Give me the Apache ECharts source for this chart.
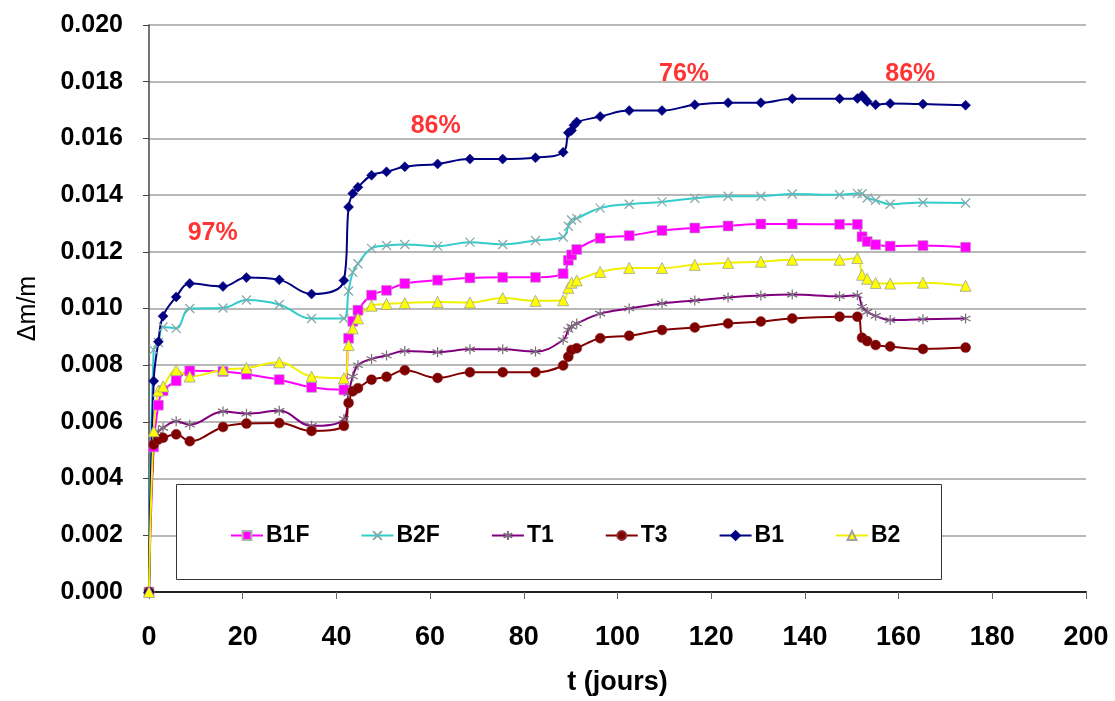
<!DOCTYPE html>
<html>
<head>
<meta charset="utf-8">
<script src="https://cdn.jsdelivr.net/npm/echarts@6/dist/echarts.min.js"></script>
<style>
html,body{margin:0;padding:0;background:#fff;}
#c{width:1115px;height:701px;}
</style>
</head>
<body>
<div id="c"></div>
<script>
// ---- data (days, Δm/m) ----
const days = [0, 1, 2, 3, 5.8, 8.7, 15.8, 20.8, 27.8, 34.7, 41.6, 42.6, 43.5, 44.6, 47.5, 50.7, 54.6, 61.6, 68.5, 75.5, 82.5,
  88.4, 89.5, 90.2, 90.7, 91.3, 96.3, 102.5, 109.5, 116.5, 123.6, 130.6, 137.3, 147.4, 151.2, 152.2, 152.7, 153.3, 155.1, 158.2, 165.2, 174.3];

const B1F = [0, 0.00512, 0.00659, 0.00710, 0.00745, 0.00780, 0.00778, 0.00768, 0.00749, 0.00722, 0.00713, 0.00895, 0.00955, 0.00994, 0.01047, 0.01064, 0.01088, 0.01100, 0.01108, 0.01110, 0.01110,
  0.01123, 0.01170, 0.01189, null, 0.01208, 0.01248, 0.01257, 0.01275, 0.01284, 0.01291, 0.01298, 0.01298, 0.01297, 0.01297, 0.01253, null, 0.01236, 0.01225, 0.01220, 0.01222, 0.01216];

const B2F = [0, 0.00854, 0.00880, 0.00935, 0.00930, 0.01000, 0.01002, 0.01030, 0.01014, 0.00965, 0.00965, 0.01062, 0.01128, 0.01158, 0.01212, 0.01222, 0.01226, 0.01220, 0.01234, 0.01226, 0.01240,
  0.01252, 0.01290, 0.01312, null, 0.01318, 0.01354, 0.01368, 0.01376, 0.01389, 0.01396, 0.01396, 0.01404, 0.01401, 0.01406, 0.01405, null, 0.01390, 0.01382, 0.01368, 0.01374, 0.01372];

const T1 = [0, 0.00555, 0.00567, 0.00579, 0.00602, 0.00590, 0.00637, 0.00629, 0.00639, 0.00586, 0.00610, 0.00700, 0.00760, 0.00800, 0.00822, 0.00834, 0.00850, 0.00846, 0.00856, 0.00856, 0.00848,
  0.00889, 0.00924, 0.00936, null, 0.00947, 0.00982, 0.01000, 0.01018, 0.01028, 0.01039, 0.01046, 0.01049, 0.01043, 0.01047, 0.01006, null, 0.00988, 0.00974, 0.00959, 0.00962, 0.00965];

const T3 = [0, 0.00520, 0.00538, 0.00544, 0.00556, 0.00532, 0.00582, 0.00594, 0.00596, 0.00568, 0.00586, 0.00667, 0.00708, 0.00719, 0.00749, 0.00759, 0.00782, 0.00755, 0.00775, 0.00775, 0.00775,
  0.00799, 0.00830, 0.00854, null, 0.00860, 0.00895, 0.00904, 0.00924, 0.00933, 0.00947, 0.00954, 0.00965, 0.00971, 0.00971, 0.00897, null, 0.00885, 0.00871, 0.00866, 0.00857, 0.00862];

const B1 = [0, 0.00744, 0.00883, 0.00973, 0.01041, 0.01088, 0.01078, 0.01109, 0.01101, 0.01051, 0.01099, 0.01358, 0.01406, 0.01428, 0.01470, 0.01482, 0.01500, 0.01510, 0.01527, 0.01527, 0.01532,
  0.01551, 0.01620, 0.01628, 0.01646, 0.01658, 0.01677, 0.01698, 0.01698, 0.01719, 0.01726, 0.01726, 0.01740, 0.01740, 0.01741, 0.01751, 0.01741, 0.01730, 0.01719, 0.01723, 0.01721, 0.01717];

const B2 = [0, 0.00567, 0.00710, 0.00725, 0.00783, 0.00760, 0.00784, 0.00790, 0.00810, 0.00760, 0.00754, 0.00871, 0.00930, 0.00965, 0.01010, 0.01016, 0.01019, 0.01023, 0.01021, 0.01037, 0.01027,
  0.01029, 0.01073, 0.01091, null, 0.01099, 0.01129, 0.01143, 0.01143, 0.01154, 0.01161, 0.01165, 0.01172, 0.01172, 0.01178, 0.01119, null, 0.01105, 0.01090, 0.01088, 0.01091, 0.01080];

const seriesNames = ['B1F', 'B2F', 'T1', 'T3', 'B1', 'B2'];
const xTicks = [0, 20, 40, 60, 80, 100, 120, 140, 160, 180, 200];
const yTicks = [0, 0.002, 0.004, 0.006, 0.008, 0.010, 0.012, 0.014, 0.016, 0.018, 0.020];

// humidity annotations: [day, value, text]
const notes = [[13.6, 0.01267, '97%'], [61.2, 0.01642, '86%'], [114.2, 0.01828, '76%'], [162.5, 0.01828, '86%']];

// ---- helpers ----
function pairs(vals) { return days.map((d, i) => [d, vals[i]]); }
const FONT = '"Liberation Sans", Arial, sans-serif';
const xSym = 'path://M0,0L10,10M10,0L0,10';
const starSym = 'path://M5,0L5,10M0.7,2.5L9.3,7.5M9.3,2.5L0.7,7.5';

function lineSeries(name, vals, color, symbol, size, item) {
  return {
    name: name, type: 'line', data: pairs(vals), connectNulls: true,
    smooth: 0.4, symbol: symbol, symbolSize: size, showSymbol: true,
    lineStyle: { color: color, width: 2 },
    itemStyle: item,
    emphasis: { disabled: true },
    z: 3
  };
}

const chart = echarts.init(document.getElementById('c'), null, { renderer: 'canvas' });
chart.setOption({
  animation: false,
  backgroundColor: '#ffffff',
  grid: { left: 149, right: 29, top: 25, bottom: 106, containLabel: false },
  xAxis: {
    type: 'value', min: xTicks[0], max: xTicks[xTicks.length - 1], interval: 20,
    name: 't (jours)', nameLocation: 'middle', nameGap: 77,
    nameTextStyle: { fontFamily: FONT, fontWeight: 'bold', fontSize: 27, color: '#000' },
    axisLine: { show: true, lineStyle: { color: '#222', width: 2 } },
    axisTick: { show: true, length: 7, lineStyle: { color: '#666', width: 1 } },
    axisLabel: { fontFamily: FONT, fontWeight: 'bold', fontSize: 27, color: '#000', margin: 32 },
    splitLine: { show: false }
  },
  yAxis: {
    type: 'value', min: yTicks[0], max: yTicks[yTicks.length - 1], interval: 0.002,
    name: 'Δm/m', nameLocation: 'middle', nameGap: 108, nameRotate: 90,
    nameTextStyle: { fontFamily: FONT, fontSize: 25, color: '#000' },
    axisLine: { show: true, lineStyle: { color: '#444', width: 1.5 } },
    axisTick: { show: true, length: 6, lineStyle: { color: '#444', width: 1 } },
    axisLabel: { fontFamily: FONT, fontWeight: 'bold', fontSize: 25, color: '#000', margin: 26,
      formatter: v => v.toFixed(3) },
    splitLine: { show: true, lineStyle: { color: '#a0a0a0', width: 1.5 } }
  },
  legend: {
    data: seriesNames, left: 225, top: 519, itemGap: 51, itemWidth: 32, itemHeight: 11,
    textStyle: { fontFamily: FONT, fontWeight: 'bold', fontSize: 23, color: '#000', padding: [0, 0, 0, -2] },
    z: 10
  },
  graphic: [{
    type: 'rect', shape: { x: 176.5, y: 484.5, width: 765, height: 95 },
    style: { fill: '#fff', stroke: '#333', lineWidth: 1 }, z: 5
  }],
  series: [
    lineSeries('B1F', B1F, '#ff00ff', 'rect', 10, { color: '#ff00ff', borderColor: '#b0b0b0', borderWidth: 0.6 }),
    lineSeries('B2F', B2F, '#33cccc', xSym, 9, { color: 'rgba(0,0,0,0)', borderColor: '#86aaaa', borderWidth: 1.3 }),
    lineSeries('T1', T1, '#800080', starSym, 10, { color: 'rgba(0,0,0,0)', borderColor: '#7a6a7a', borderWidth: 1.2 }),
    lineSeries('T3', T3, '#800000', 'circle', 10, { color: '#800000', borderColor: '#8a3030', borderWidth: 0.5 }),
    lineSeries('B1', B1, '#000080', 'diamond', 10, { color: '#000080', borderColor: '#000080', borderWidth: 0.5 }),
    lineSeries('B2', B2, '#f0f000', 'triangle', 11, { color: '#ffff00', borderColor: '#a0a0a0', borderWidth: 0.8 }),
    {
      name: 'notes', type: 'scatter', data: notes.map(n => [n[0], n[1], n[2]]),
      symbolSize: 0, silent: true, z: 6,
      label: { show: true, position: 'inside', formatter: p => p.value[2],
        fontFamily: FONT, fontWeight: 'bold', fontSize: 25, color: '#ff0000' }
    }
  ]
});
</script>
</body>
</html>
